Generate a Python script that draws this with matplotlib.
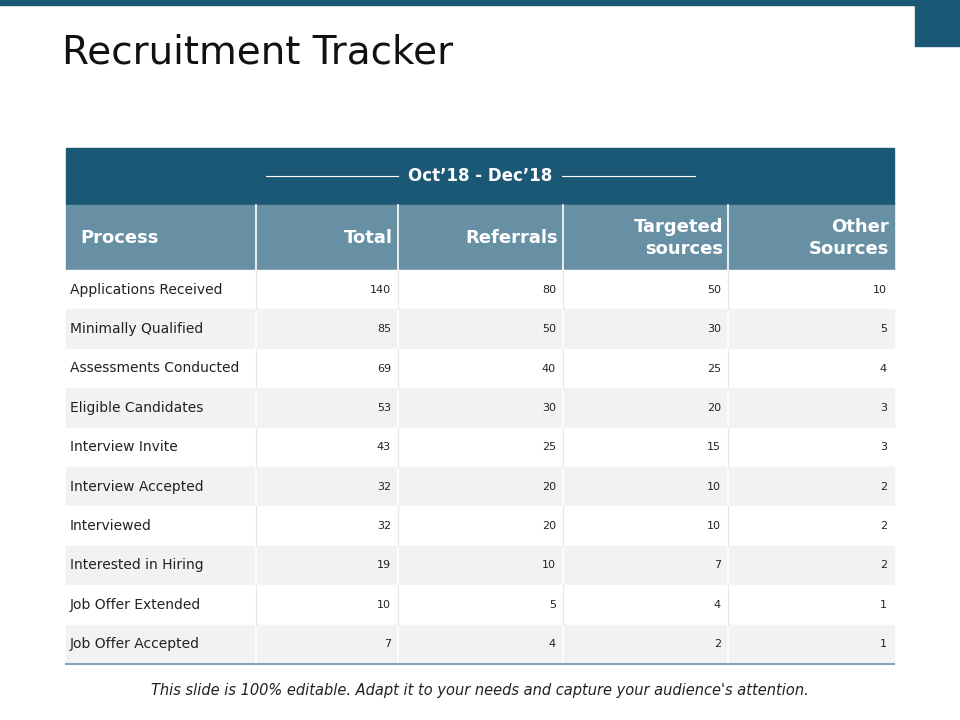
import matplotlib
matplotlib.use("Agg")
import matplotlib.pyplot as plt
from matplotlib.patches import Rectangle

title = "Recruitment Tracker"
period = "Oct\u201918 - Dec\u201918"
headers = ["Process", "Total", "Referrals", "Targeted\nsources", "Other\nSources"]
processes = ["Applications Received", "Minimally Qualified", "Assessments Conducted",
             "Eligible Candidates", "Interview Invite", "Interview Accepted", "Interviewed",
             "Interested in Hiring", "Job Offer Extended", "Job Offer Accepted"]
total = [140, 85, 69, 53, 43, 32, 32, 19, 10, 7]
referrals = [80, 50, 40, 30, 25, 20, 20, 10, 5, 4]
targeted = [50, 30, 25, 20, 15, 10, 10, 7, 4, 2]
other = [10, 5, 4, 3, 3, 2, 2, 2, 1, 1]
footer = "This slide is 100% editable. Adapt it to your needs and capture your audience's attention."

dark = "#1b5876"
mid = "#6890a5"
fig = plt.figure(figsize=(9.6, 7.2), dpi=100)
ax = fig.add_axes([0, 0, 1, 1])
ax.set_xlim(0, 960); ax.set_ylim(720, 0); ax.axis("off")

ax.add_patch(Rectangle((0, 0), 960, 5, color=dark))
ax.add_patch(Rectangle((915, 0), 45, 46, color=dark))
ax.text(62, 52, title, fontsize=28, va="center", ha="left", color="#111111")

cols = [66, 256, 398, 563, 728, 894]
ax.add_patch(Rectangle((66, 148), 828, 57, color=dark))
ax.text(480, 176, period, color="white", fontsize=12, fontweight="bold", ha="center", va="center")
ax.plot([266, 398], [176, 176], color="white", lw=0.8)
ax.plot([562, 695], [176, 176], color="white", lw=0.8)
ax.add_patch(Rectangle((66, 205), 828, 65, color=mid))
for i, h in enumerate(headers):
    if i == 0:
        ax.text(80, 238, h, color="white", fontsize=13, fontweight="bold", ha="left", va="center")
    else:
        ax.text(cols[i + 1] - 5, 238, h, color="white", fontsize=13, fontweight="bold",
                ha="right", va="center", linespacing=1.3)

top, rh = 270, 39.4
values = [total, referrals, targeted, other]
for r, p in enumerate(processes):
    y = top + r * rh
    ax.add_patch(Rectangle((66, y), 828, rh, color="#f2f2f2" if r % 2 else "white"))
    ax.text(70, y + rh / 2, p, fontsize=10, ha="left", va="center", color="#222222")
    for c, v in enumerate(values):
        ax.text(cols[c + 2] - 7, y + rh / 2, str(v[r]), fontsize=8, ha="right", va="center", color="#222222")
for x in cols[1:-1]:
    ax.plot([x, x], [205, top + 10 * rh], color="white", lw=1.2)
for x in cols[1:-1]:
    for r in range(10):
        if r % 2 == 0:
            ax.plot([x, x], [top + r * rh, top + (r + 1) * rh], color="#e6e6e6", lw=0.8)
ax.plot([66, 894], [top + 10 * rh, top + 10 * rh], color="#8aa5b5", lw=1.5)
ax.text(480, 691, footer, fontsize=10.5, style="italic", ha="center", va="center", color="#222222")
fig.savefig("out.png", dpi=100)
